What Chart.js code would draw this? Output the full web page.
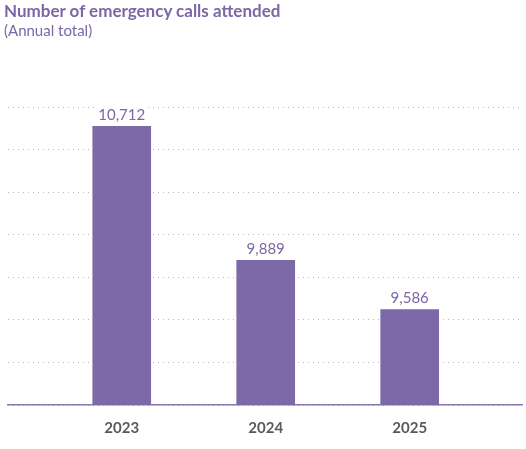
<!DOCTYPE html>
<html><head><meta charset="utf-8">
<script src="https://cdn.jsdelivr.net/npm/chart.js@4"></script>
<style>
body{margin:0;background:#fff;font-family:Lato,sans-serif}
#t{position:absolute;left:4px;top:0px;font-size:17px;font-weight:bold;color:#7b66a6}
#s{position:absolute;left:4px;top:21px;font-size:15px;color:#7b66a6}
#wrap{position:absolute;left:0;top:0;width:526px;height:449px}
</style></head><body>
<div id="wrap"><canvas id="c"></canvas></div>
<div id="t">Number of emergency calls attended</div>
<div id="s">(Annual total)</div>
<script>
const years = ["2023","2024","2025"];
const calls = [10712, 9889, 9586];
const yMin = 9000, yMax = 10830, gridCount = 7;

const valueLabels = {
  id:"valueLabels",
  afterDatasetsDraw(chart){
    const ctx = chart.ctx, meta = chart.getDatasetMeta(0);
    ctx.save();
    ctx.font = "15px Lato";
    ctx.textAlign = "center";
    ctx.textBaseline = "bottom";
    meta.data.forEach((b,i)=>{
      const txt = calls[i].toLocaleString("en");
      const w = ctx.measureText(txt).width;
      ctx.fillStyle="#fff"; ctx.fillRect(b.x-w/2-3,b.y-22,w+6,18);
      ctx.fillStyle="#7b66a6"; ctx.fillText(txt,b.x,b.y-4);
    });
    ctx.restore();
  }
};

new Chart(document.getElementById("c"),{
  type:"bar",
  data:{datasets:[{data:calls.map((v,i)=>({x:i,y:v})),backgroundColor:"#7e69a8",barThickness:58}]},
  options:{
    responsive:true,maintainAspectRatio:false,animation:false,
    layout:{padding:{left:8,right:4,top:107,bottom:6}},
    plugins:{legend:{display:false},tooltip:{enabled:false}},
    scales:{
      x:{type:"linear",min:-0.79,max:2.78,offset:false,
        afterBuildTicks(ax){ax.ticks=years.map((y,i)=>({value:i}));},
        ticks:{callback:(v)=>years[v],color:"#5a5a5a",font:{family:"Lato",size:15,weight:"bold"},padding:6},
        grid:{display:false},border:{color:"#8a7bb0",width:1.5}},
      y:{min:yMin,max:yMax,display:true,
        afterBuildTicks(ax){ax.ticks=[];for(let i=0;i<=gridCount;i++)ax.ticks.push({value:yMin+(yMax-yMin)*i/gridCount});},
        ticks:{display:false},
        grid:{color:"#b8b8b8",lineWidth:1,drawTicks:false},
        border:{display:false,dash:[1,4]}}
    }
  },
  plugins:[valueLabels]
});
</script></body></html>
